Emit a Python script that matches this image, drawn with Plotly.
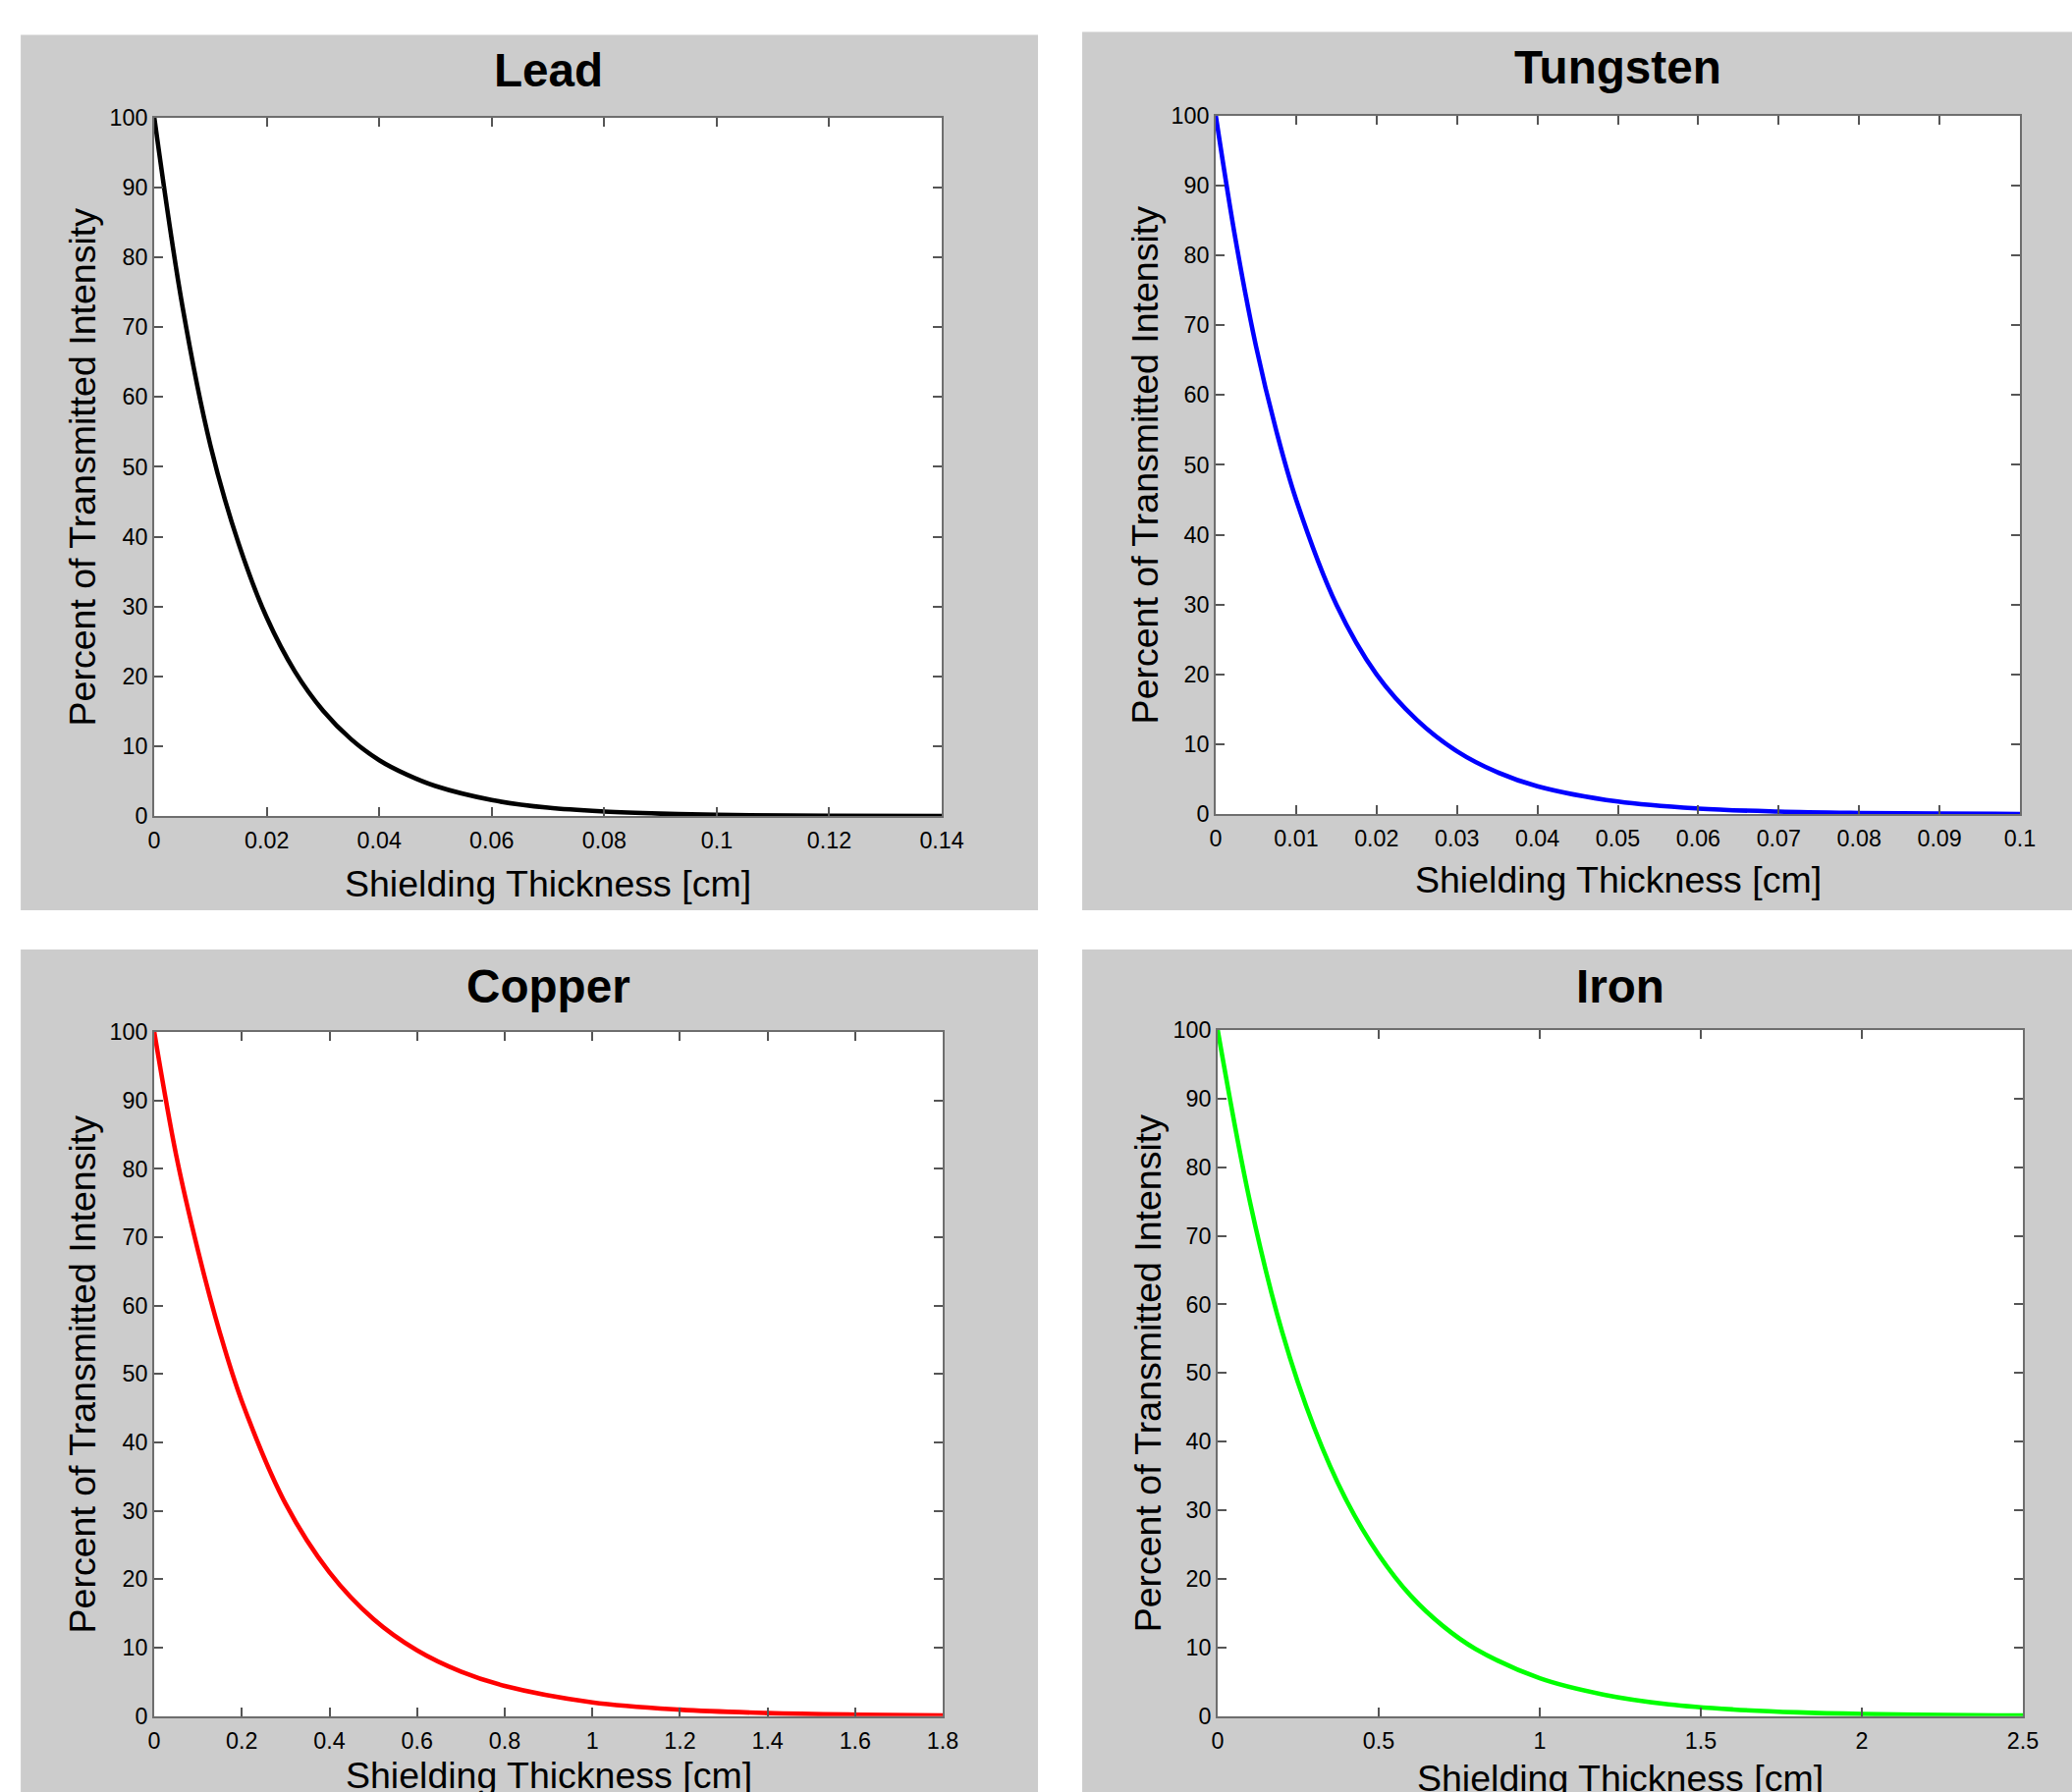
import plotly.graph_objects as go

# ---- data ----
titles = ["Lead", "Tungsten", "Copper", "Iron"]
colors = ["#000000", "#0000ff", "#ff0000", "#00ff00"]

lead_x = [0, 0.005, 0.01, 0.015, 0.02, 0.025, 0.03, 0.035, 0.04, 0.045, 0.05, 0.06, 0.07, 0.08, 0.09, 0.10, 0.12, 0.14]
lead_y = [100, 73, 53, 39, 28.4, 20.7, 15.1, 11, 8.0, 5.9, 4.3, 2.3, 1.2, 0.65, 0.35, 0.18, 0.05, 0.01]

tung_x = [0, 0.0025, 0.005, 0.0075, 0.01, 0.015, 0.02, 0.025, 0.03, 0.035, 0.04, 0.05, 0.06, 0.07, 0.08, 0.09, 0.1]
tung_y = [100, 82, 67, 55, 45, 30, 20, 13.5, 9, 6, 4, 1.8, 0.8, 0.37, 0.17, 0.07, 0.03]

copp_x = [0, 0.05, 0.1, 0.15, 0.2, 0.3, 0.4, 0.5, 0.6, 0.7, 0.8, 1.0, 1.2, 1.4, 1.6, 1.8]
copp_y = [100, 82, 68, 56, 46, 31, 21, 14.2, 9.6, 6.5, 4.4, 2.0, 0.93, 0.43, 0.2, 0.09]

iron_x = [0, 0.1, 0.2, 0.3, 0.4, 0.5, 0.6, 0.7, 0.8, 1.0, 1.2, 1.4, 1.6, 1.8, 2.0, 2.25, 2.5]
iron_y = [100, 75, 56, 42, 31.4, 23.5, 17.5, 13.1, 9.8, 5.5, 3.1, 1.7, 0.96, 0.54, 0.3, 0.15, 0.07]

lead_xticks = [0, 0.02, 0.04, 0.06, 0.08, 0.1, 0.12, 0.14]
lead_xtext = ["0", "0.02", "0.04", "0.06", "0.08", "0.1", "0.12", "0.14"]
tung_xticks = [0, 0.01, 0.02, 0.03, 0.04, 0.05, 0.06, 0.07, 0.08, 0.09, 0.1]
tung_xtext = ["0", "0.01", "0.02", "0.03", "0.04", "0.05", "0.06", "0.07", "0.08", "0.09", "0.1"]
copp_xticks = [0, 0.2, 0.4, 0.6, 0.8, 1.0, 1.2, 1.4, 1.6, 1.8]
copp_xtext = ["0", "0.2", "0.4", "0.6", "0.8", "1", "1.2", "1.4", "1.6", "1.8"]
iron_xticks = [0, 0.5, 1.0, 1.5, 2.0, 2.5]
iron_xtext = ["0", "0.5", "1", "1.5", "2", "2.5"]
y_ticks = [0, 10, 20, 30, 40, 50, 60, 70, 80, 90, 100]

x_label = "Shielding Thickness [cm]"
y_label = "Percent of Transmitted Intensity"

series = [(lead_x, lead_y), (tung_x, tung_y), (copp_x, copp_y), (iron_x, iron_y)]
xranges = [[0, 0.14], [0, 0.1], [0, 1.8], [0, 2.5]]
xticks = [(lead_xticks, lead_xtext), (tung_xticks, tung_xtext),
          (copp_xticks, copp_xtext), (iron_xticks, iron_xtext)]

# ---- layout geometry (target pixels in the 2110x1825 picture) ----
axes_px = [(156, 118, 958, 830), (1237, 116, 2056, 828),
           (156, 1050, 959, 1747), (1239, 1048, 2059, 1747)]
panels_px = [(20, 34, 1056, 926), (1101, 31, 2125, 926),
             (20, 966, 1056, 1840), (1101, 966, 2125, 1840)]
title_y_px = [70, 67, 1003, 1003]
xlab_y_px = [899, 895, 1807, 1810]
ylab_x_px = [83, 1165, 83, 1168]

# the photographed page is slightly shrunk/offset; compensate
SC = 0.9865
OX, OY = 4.9, 11.4
FW, FH = 2140, 1850

def px_x(p):
    return ((p - OX) / SC) / FW

def px_y(p):
    return 1 - ((p - OY) / SC) / FH

def fs(v):
    return v / SC

FONT = "Liberation Sans, Arial, Helvetica, sans-serif"

fig = go.Figure()
shapes = []
annotations = []

for i in range(4):
    xs, ys = series[i]
    ax = "" if i == 0 else str(i + 1)
    fig.add_trace(go.Scatter(x=xs, y=ys, mode="lines",
                             line=dict(color=colors[i], width=fs(4.5), shape="spline", smoothing=1.0),
                             xaxis="x" + ax, yaxis="y" + ax, showlegend=False, hoverinfo="x+y"))
    l, t, r, b = axes_px[i]
    common = dict(showline=True, linecolor="#6e6e6e", linewidth=2, mirror="ticks",
                  ticks="inside", ticklen=9, tickwidth=1.5, tickcolor="#555555",
                  showgrid=False, zeroline=False,
                  tickfont=dict(family=FONT, size=fs(23), color="#000000"))
    fig.update_layout(**{
        "xaxis" + ax: dict(domain=[px_x(l), px_x(r)], range=xranges[i], anchor="y" + ax,
                           tickmode="array", tickvals=xticks[i][0], ticktext=xticks[i][1],
                           ticklabelstandoff=3, **common),
        "yaxis" + ax: dict(domain=[px_y(b), px_y(t)], range=[0, 100], anchor="x" + ax,
                           tickmode="array", tickvals=y_ticks, ticklabelstandoff=0, **common),
    })
    pl, pt, pr, pb = panels_px[i]
    shapes.append(dict(type="rect", xref="paper", yref="paper", x0=px_x(pl), x1=min(1.0, px_x(pr)),
                       y0=max(0.0, px_y(pb)), y1=px_y(pt), fillcolor="#cccccc", line=dict(width=0), layer="below"))
    shapes.append(dict(type="rect", xref="paper", yref="paper", x0=px_x(l), x1=px_x(r),
                       y0=px_y(b), y1=px_y(t), fillcolor="#ffffff", line=dict(width=0), layer="below"))
    cx = (l + r) / 2
    annotations.append(dict(text="<b>" + titles[i] + "</b>", x=px_x(cx), y=px_y(title_y_px[i]),
                            xref="paper", yref="paper", showarrow=False, xanchor="center", yanchor="middle",
                            font=dict(family=FONT, size=fs(47), color="#000000")))
    annotations.append(dict(text=x_label, x=px_x(cx), y=px_y(xlab_y_px[i]), xref="paper", yref="paper",
                            showarrow=False, xanchor="center", yanchor="middle",
                            font=dict(family=FONT, size=fs(37), color="#000000")))
    annotations.append(dict(text=y_label, x=px_x(ylab_x_px[i]), y=px_y((t + b) / 2), xref="paper", yref="paper",
                            showarrow=False, xanchor="center", yanchor="middle", textangle=-90,
                            font=dict(family=FONT, size=fs(37), color="#000000")))

fig.update_layout(width=FW, height=FH, autosize=False, margin=dict(l=0, r=0, t=0, b=0),
                  paper_bgcolor="#ffffff", plot_bgcolor="rgba(0,0,0,0)",
                  shapes=shapes, annotations=annotations, showlegend=False)

post = ("var s=document.createElement('style');"
        "s.textContent='html,body{margin:0!important;padding:0!important;overflow:hidden!important;}';"
        "document.head.appendChild(s);")

fig.write_html("out.html", post_script=post, config={"displayModeBar": False})
